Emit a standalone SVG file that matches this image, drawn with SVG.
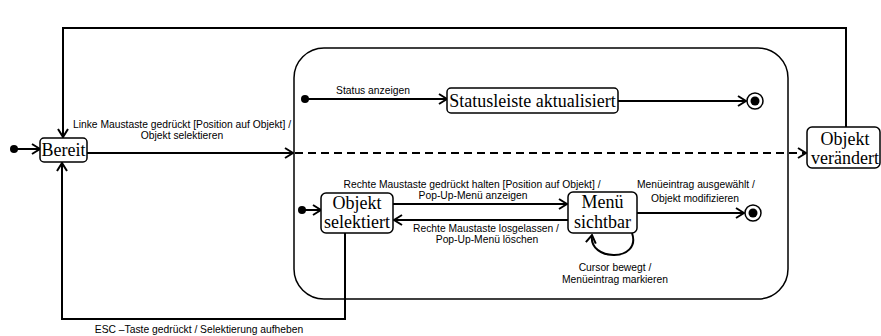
<svg xmlns="http://www.w3.org/2000/svg" width="881" height="336" viewBox="0 0 881 336">
<defs>
<style>
.state{fill:#fff;stroke:#000;stroke-width:1.5}
.st{font-family:"Liberation Serif","Times New Roman",serif;font-size:18px;fill:#000;text-anchor:middle}
.lb{font-family:"Liberation Sans",Arial,sans-serif;font-size:10.3px;fill:#000;text-anchor:middle}
.ln{fill:none;stroke:#000;stroke-width:2}
.dash{fill:none;stroke:#000;stroke-width:2;stroke-dasharray:8 5}
</style>
<marker id="arr" viewBox="0 0 10 12" refX="9" refY="6" markerWidth="10" markerHeight="12" markerUnits="userSpaceOnUse" orient="auto">
<path d="M1 1 L9 6 L1 11" fill="none" stroke="#000" stroke-width="2"/>
</marker>
</defs>
<rect width="881" height="336" fill="#fff"/>
<g id="composite">
<rect x="294" y="48" width="494" height="251" rx="30" ry="30" fill="none" stroke="#000" stroke-width="1.5"/>
</g>
<g id="connectors">
<circle cx="14" cy="149" r="4" fill="#000"/>
<line class="ln" x1="14" y1="149" x2="40" y2="149" marker-end="url(#arr)"/>
<polyline class="ln" points="846,127 846,28 63,28 63,137" marker-end="url(#arr)"/>
<line class="ln" x1="87" y1="153" x2="293" y2="153" marker-end="url(#arr)"/>
<line class="dash" x1="295" y1="153" x2="806" y2="153" marker-end="url(#arr)"/>
<circle cx="305" cy="99" r="4" fill="#000"/>
<line class="ln" x1="305" y1="99" x2="447" y2="99" marker-end="url(#arr)"/>
<line class="ln" x1="618" y1="101" x2="746" y2="101" marker-end="url(#arr)"/>
<circle cx="302" cy="210" r="4" fill="#000"/>
<line class="ln" x1="302" y1="210" x2="321" y2="210" marker-end="url(#arr)"/>
<line class="ln" x1="393" y1="204" x2="567" y2="204" marker-end="url(#arr)"/>
<line class="ln" x1="568" y1="220" x2="394" y2="220" marker-end="url(#arr)"/>
<line class="ln" x1="637" y1="213" x2="744" y2="213" marker-end="url(#arr)"/>
<path class="ln" d="M632 233 C642 262 588 262 592 235" marker-end="url(#arr)"/>
<polyline class="ln" points="345,233 345,319 62,319 62,163" marker-end="url(#arr)"/>
<text class="lb" x="182" y="128">Linke Maustaste gedrückt [Position auf Objekt] /</text>
<text class="lb" x="182" y="139">Objekt selektieren</text>
<text class="lb" x="373" y="94">Status anzeigen</text>
<text class="lb" x="472" y="188">Rechte Maustaste gedrückt halten [Position auf Objekt] /</text>
<text class="lb" x="473" y="199">Pop-Up-Menü anzeigen</text>
<text class="lb" x="486" y="232">Rechte Maustaste losgelassen /</text>
<text class="lb" x="487" y="243">Pop-Up-Menü löschen</text>
<text class="lb" x="696" y="188">Menüeintrag ausgewählt /</text>
<text class="lb" x="695" y="202">Objekt modifizieren</text>
<text class="lb" x="615" y="271">Cursor bewegt /</text>
<text class="lb" x="615" y="283">Menüeintrag markieren</text>
<text class="lb" x="199" y="333">ESC –Taste gedrückt / Selektierung aufheben</text>
</g>
<g id="bereit">
<rect class="state" x="40" y="138" width="47" height="24" rx="4"/>
<text class="st" x="63.5" y="156">Bereit</text>
</g>
<g id="statusleiste">
<rect class="state" x="447" y="88" width="171" height="25" rx="4"/>
<text class="st" x="532.5" y="107">Statusleiste aktualisiert</text>
</g>
<g id="final1">
<circle cx="755" cy="101" r="8" fill="#fff" stroke="#000" stroke-width="1.5"/>
<circle cx="755" cy="101" r="4.5" fill="#000"/>
</g>
<g id="objekt-selektiert">
<rect class="state" x="321" y="193" width="72" height="40" rx="5"/>
<text class="st" x="357" y="209">Objekt</text>
<text class="st" x="357" y="228">selektiert</text>
</g>
<g id="menue-sichtbar">
<rect class="state" x="568" y="192" width="69" height="41" rx="5"/>
<text class="st" x="602.5" y="208">Menü</text>
<text class="st" x="602.5" y="228">sichtbar</text>
</g>
<g id="final2">
<circle cx="753" cy="213" r="8" fill="#fff" stroke="#000" stroke-width="1.5"/>
<circle cx="753" cy="213" r="4.5" fill="#000"/>
</g>
<g id="objekt-veraendert">
<rect class="state" x="807" y="127" width="73" height="41" rx="5"/>
<text class="st" x="845" y="145">Objekt</text>
<text class="st" x="845" y="164">verändert</text>
</g>
</svg>
